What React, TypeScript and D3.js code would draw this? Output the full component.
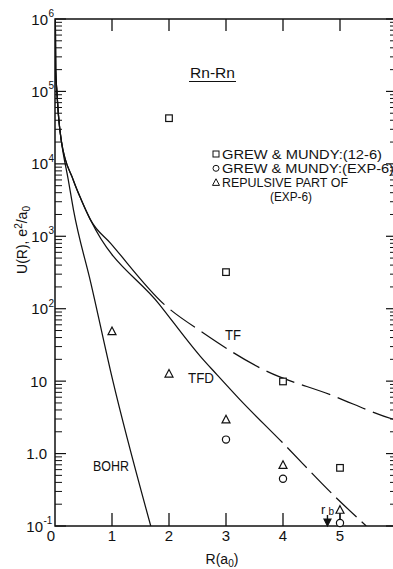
import React, { useRef, useEffect } from "react";
import * as d3 from "d3";

// axis ticks
const xTickValues = [0, 1, 2, 3, 4, 5];
const xTickLabels = ["0", "1", "2", "3", "4", "5"];
const yDecades = [0.1, 1, 10, 100, 1e3, 1e4, 1e5, 1e6];
const yTickBase = ["10", "1.0", "10", "10", "10", "10", "10", "10"];
const yTickExp = ["-1", "", "", "2", "3", "4", "5", "6"];

// Grew & Mundy (12-6)
const squareR = [2, 3, 4, 5];
const squareU = [42700, 320, 9.9, 0.635];
// Grew & Mundy (exp-6)
const circleR = [3, 4, 5];
const circleU = [1.56, 0.45, 0.11];
// repulsive part of (exp-6)
const triangleR = [1, 2, 3, 4, 5];
const triangleU = [48.6, 12.6, 2.94, 0.69, 0.166];

// theoretical curves
const bohrR = [0.006, 0.012, 0.033, 0.067, 0.11, 0.233, 0.325, 0.63, 1.01, 1.68];
const bohrU = [1e6, 2e5, 1e5, 4.1e4, 2.1e4, 6000, 2300, 224, 10.5, 0.1];

const tfR = [0.006, 0.012, 0.033, 0.067, 0.11, 0.32, 0.46, 0.62, 0.98, 1.92, 2.59, 3.68, 4.83, 5.92, 6.05];
const tfU = [1e6, 2e5, 1e5, 4.1e4, 2.1e4, 6000, 3200, 1700, 794, 114, 47, 14.1, 6.5, 3.0, 2.8];

const tfdR = [0.006, 0.012, 0.033, 0.067, 0.11, 0.32, 0.46, 0.62, 1.83, 2.55, 2.84, 3.24, 3.99, 4.93, 5.46];
const tfdU = [1e6, 2e5, 1e5, 4.1e4, 2.1e4, 6000, 3200, 1700, 115, 22, 12.3, 5.6, 1.42, 0.247, 0.1];

const tfDashFrom = 1.92;
const tfdDashFrom = 3.99;
const rb = 4.78;

const legendLabels = ["GREW & MUNDY:(12-6)", "GREW & MUNDY:(EXP-6)", "REPULSIVE PART OF", "(EXP-6)"];

const FONT = "'Liberation Sans', Arial, sans-serif";

export default function App() {
  const svgRef = useRef(null);

  useEffect(() => {
    const width = 393;
    const height = 569;
    const svg = d3.select(svgRef.current);
    svg.selectAll("*").remove();
    svg.attr("width", width).attr("height", height);

    const x = d3.scaleLinear().domain([0, 6]).range([55, 397]);
    const y = d3.scaleLog().domain([0.1, 1e6]).range([526, 19]);
    const left = x(0), right = x(6), top = y(1e6), bottom = y(0.1);

    svg.append("rect").attr("width", width).attr("height", height).attr("fill", "#fff");

    svg.append("defs").append("clipPath").attr("id", "plotclip")
      .append("rect").attr("x", left).attr("y", top).attr("width", right - left).attr("height", bottom - top);

    const g = svg.append("g").attr("stroke", "#111").attr("fill", "none");

    // frame
    g.append("rect").attr("x", left).attr("y", top).attr("width", right - left)
      .attr("height", bottom - top).attr("stroke-width", 1.5);

    // x ticks, top and bottom, pointing in
    xTickValues.slice(1).forEach((v) => {
      g.append("line").attr("x1", x(v)).attr("x2", x(v)).attr("y1", bottom).attr("y2", bottom - 13).attr("stroke-width", 1.3);
      g.append("line").attr("x1", x(v)).attr("x2", x(v)).attr("y1", top).attr("y2", top + 12).attr("stroke-width", 1.3);
    });

    // y ticks, left and right
    yDecades.forEach((d, i) => {
      [[left, 1], [right, -1]].forEach(([x0, s]) => {
        g.append("line").attr("x1", x0).attr("x2", x0 + s * 11).attr("y1", y(d)).attr("y2", y(d)).attr("stroke-width", 1.2);
        if (i < yDecades.length - 1) {
          for (let k = 2; k <= 9; k++) {
            g.append("line").attr("x1", x0).attr("x2", x0 + s * 7)
              .attr("y1", y(d * k)).attr("y2", y(d * k)).attr("stroke-width", 1);
          }
        }
      });
    });

    // curves
    const line = d3.line().x((p) => x(p[0])).y((p) => y(p[1])).curve(d3.curveMonotoneX);
    const curves = svg.append("g").attr("clip-path", "url(#plotclip)")
      .attr("fill", "none").attr("stroke", "#111").attr("stroke-width", 1.25);

    curves.append("path").attr("d", line(bohrR.map((r, i) => [r, bohrU[i]])));
    const tfPath = curves.append("path").attr("d", line(tfR.map((r, i) => [r, tfU[i]])));
    const tfdPath = curves.append("path").attr("d", line(tfdR.map((r, i) => [r, tfdU[i]])));

    // solid up to xBreak, long dashes after it
    function dashAfter(node, xBreak, dash, gap) {
      const total = node.getTotalLength();
      let lo = 0, hi = total;
      for (let i = 0; i < 40; i++) {
        const mid = (lo + hi) / 2;
        if (node.getPointAtLength(mid).x < xBreak) lo = mid;
        else hi = mid;
      }
      const arr = [lo, gap];
      let used = lo + gap;
      while (used < total + dash) {
        arr.push(dash, gap);
        used += dash + gap;
      }
      return arr.join(" ");
    }
    tfPath.attr("stroke-dasharray", dashAfter(tfPath.node(), x(tfDashFrom), 30, 8));
    tfdPath.attr("stroke-dasharray", dashAfter(tfdPath.node(), x(tfdDashFrom), 28, 7));

    // markers
    const marks = svg.append("g").attr("fill", "#fff").attr("stroke", "#111").attr("stroke-width", 1.2);
    const tri = (cx, cy, s) => `M${cx},${cy - s * 0.55}L${cx + s * 0.5},${cy + s * 0.4}L${cx - s * 0.5},${cy + s * 0.4}Z`;

    // connector at R = 5 between triangle and circle
    marks.append("line").attr("x1", x(5)).attr("x2", x(5))
      .attr("y1", y(triangleU[4]) + 3).attr("y2", y(circleU[2]) - 3.5);

    squareR.forEach((r, i) => {
      marks.append("rect").attr("x", x(r) - 3.3).attr("y", y(squareU[i]) - 3.3).attr("width", 6.6).attr("height", 6.6);
    });
    circleR.forEach((r, i) => {
      marks.append("circle").attr("cx", x(r)).attr("cy", y(circleU[i])).attr("r", 3.6);
    });
    triangleR.forEach((r, i) => {
      marks.append("path").attr("d", tri(x(r), y(triangleU[i]), 8));
    });

    // r_b arrow
    const ax = x(rb);
    marks.append("line").attr("x1", ax).attr("x2", ax).attr("y1", 515).attr("y2", bottom - 2).attr("stroke-width", 1.4);
    marks.append("path").attr("d", `M${ax - 3.5},${bottom - 7}L${ax},${bottom}L${ax + 3.5},${bottom - 7}Z`)
      .attr("fill", "#111");

    // text
    const t = svg.append("g").attr("fill", "#111").style("font-family", FONT);

    xTickValues.forEach((v, i) => {
      t.append("text").attr("x", v === 0 ? x(v) - 4 : x(v)).attr("y", 541)
        .attr("text-anchor", "middle").style("font-size", "15px").text(xTickLabels[i]);
    });

    yDecades.forEach((d, i) => {
      const yy = y(d);
      const hasExp = yTickExp[i] !== "";
      const endX = hasExp ? (i === 0 ? 43 : 48) : 47;
      t.append("text").attr("x", endX).attr("y", yy + 5.5).attr("text-anchor", "end")
        .style("font-size", "15px").text(yTickBase[i]);
      if (hasExp) {
        t.append("text").attr("x", endX + 0.5).attr("y", yy - 2).style("font-size", "10px").text(yTickExp[i]);
      }
    });

    // axis titles
    const yt = t.append("text").attr("transform", "translate(27,240) rotate(-90)")
      .attr("text-anchor", "middle").style("font-size", "14px");
    yt.append("tspan").text("U(R), e");
    yt.append("tspan").attr("dy", -5).style("font-size", "10px").text("2");
    yt.append("tspan").attr("dy", 5).text("/a");
    yt.append("tspan").attr("dy", 3).style("font-size", "10px").text("0");

    const xt = t.append("text").attr("x", 222).attr("y", 564).attr("text-anchor", "middle").style("font-size", "14px");
    xt.append("tspan").text("R(a");
    xt.append("tspan").attr("dy", 3).style("font-size", "10px").text("0");
    xt.append("tspan").attr("dy", -3).text(")");

    // title
    t.append("text").attr("x", 190).attr("y", 78).style("font-size", "15px")
      .attr("textLength", 45).attr("lengthAdjust", "spacingAndGlyphs").text("Rn-Rn");
    svg.append("line").attr("x1", 189).attr("x2", 236).attr("y1", 81.5).attr("y2", 81.5)
      .attr("stroke", "#111").attr("stroke-width", 1.2);

    // curve labels
    const stretched = (xx, yy, len, s) =>
      t.append("text").attr("x", xx).attr("y", yy).style("font-size", "14px")
        .attr("textLength", len).attr("lengthAdjust", "spacingAndGlyphs").text(s);
    stretched(225, 340, 16, "TF");
    stretched(188, 383, 26, "TFD");
    stretched(93, 471, 36, "BOHR");

    t.append("text").attr("x", 321).attr("y", 514).style("font-size", "13px").text("r");
    t.append("text").attr("x", 328.5).attr("y", 515).style("font-size", "10px").text("b");

    // legend
    const legY = [158.5, 172.8, 187.1, 201.4];
    const legX = [222, 222, 222, 270];
    const legLen = [160, 172, 126, 42];
    const lg = svg.append("g").attr("fill", "#fff").attr("stroke", "#111").attr("stroke-width", 1);
    lg.append("rect").attr("x", 213).attr("y", legY[0] - 7.5).attr("width", 6).attr("height", 6);
    lg.append("circle").attr("cx", 216).attr("cy", legY[1] - 4.5).attr("r", 3);
    lg.append("path").attr("d", tri(216, legY[2] - 4.5, 7));
    legendLabels.forEach((s, i) => {
      t.append("text").attr("x", legX[i]).attr("y", legY[i])
        .style("font-size", "12.5px").attr("textLength", legLen[i])
        .attr("lengthAdjust", "spacingAndGlyphs").text(s);
    });
  }, []);

  return (
    <svg ref={svgRef} style={{ position: "absolute", left: 0, top: 0, display: "block" }}></svg>
  );
}
